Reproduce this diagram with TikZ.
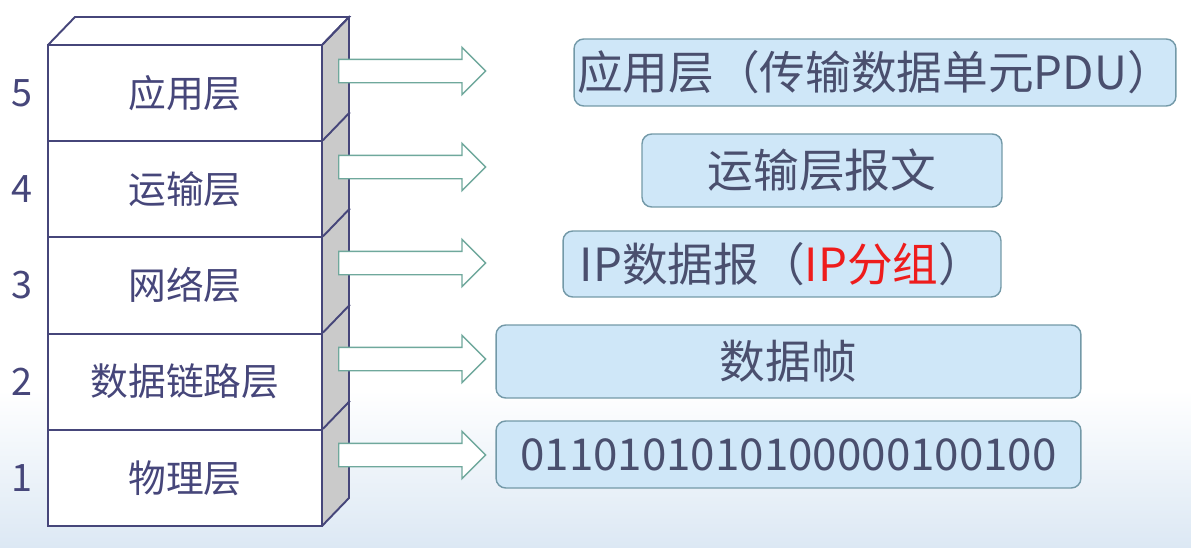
\documentclass[tikz,border=0pt]{standalone}
\usepackage{fontspec}
\setmainfont{Noto Sans CJK SC}
\usepackage{xcolor}
\definecolor{navy}{HTML}{46467A}
\definecolor{ink}{HTML}{4A4F6E}
\definecolor{sidegray}{HTML}{CACACA}
\definecolor{arrowrim}{HTML}{6FA89C}
\definecolor{pale}{HTML}{CFE7F8}
\definecolor{rim}{HTML}{7399A8}
\definecolor{hot}{HTML}{EE1C1C}
\definecolor{bgblue}{HTML}{DCE8F4}
\usepackage{tikz}
\usetikzlibrary{positioning,shapes.arrows}
\tikzset{
  layer/.style={draw=navy,fill=white,line width=1.1pt,minimum width=5.48cm,minimum height=1.924cm,
    inner sep=0pt,font=\fontsize{21.5}{24}\selectfont,text=navy},
  num/.style={font=\fontsize{21.5}{24}\selectfont,text=navy},
  pdu/.style={draw=rim,fill=pale,rounded corners=5.5pt,line width=0.8pt,inner sep=0pt,
    font=\fontsize{26}{30}\selectfont,text=ink},
  fwd/.style={single arrow,draw=arrowrim,fill=white,line width=0.8pt,minimum height=2.94cm,
    single arrow head extend=0.24cm,inner xsep=0pt,inner ysep=0.22cm,anchor=tail},
}

\begin{document}
\begin{tikzpicture}[x=0.02cm,y=-0.02cm]
  \useasboundingbox (0,0) rectangle (1191,548);
  \shade[top color=white,bottom color=bgblue] (0,390) rectangle (1191,548);
  % side and top of the stack
  \fill[sidegray] (322,45) -- (349,17) -- (349,498) -- (322,526) -- cycle;
  \draw[navy,line width=1.1pt,fill=white] (48,45) -- (75,17) -- (349,17) -- (322,45);
  \draw[navy,line width=1.1pt] (349,17) -- (349,498) -- (322,526);
  % layers, numbers, arrows
  \foreach \k/\name [count=\i from 0] in {5/应用层,4/运输层,3/网络层,2/数据链路层,1/物理层}{
    \node[layer] (L\k) at (185,{93.1+96.2*\i}) {\name};
    \node[num] (n\k) at (22,{93.1+96.2*\i}) {\k};
    \draw[navy,line width=1.1pt] (L\k.north east) -- ++(27,-28);
    \node[fwd] (a\k) at (338,{71+96*\i}) {};
  }
  % data units
  \node[pdu,minimum width=12.04cm,minimum height=1.34cm] (p5) at (875,72.5) {应用层（传输数据单元PDU）};
  \node[pdu,minimum width=7.2cm,minimum height=1.46cm] (p4) at (822,170.5) {运输层报文};
  \node[pdu,minimum width=8.76cm,minimum height=1.32cm] (p3) at (782,264) {IP数据报（\textcolor{hot}{IP分组}）};
  \node[pdu,minimum width=11.7cm,minimum height=1.46cm] (p2) at (788.5,361.5) {数据帧};
  \node[pdu,minimum width=11.7cm,minimum height=1.34cm,font=\fontsize{25}{30}\selectfont] (p1) at (788.5,454.5) {0110101010100000100100\hspace{0.6em}};
\end{tikzpicture}
\end{document}
